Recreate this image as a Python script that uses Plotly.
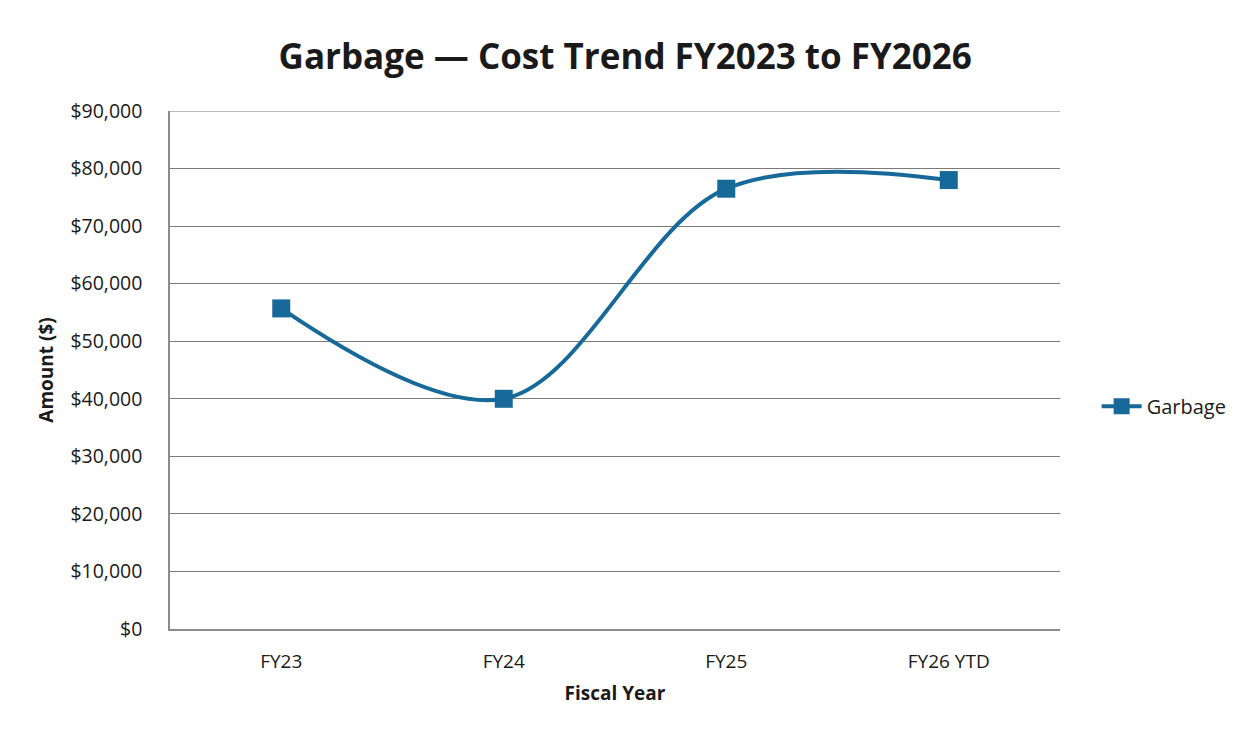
import plotly.graph_objects as go

# Annual garbage costs by fiscal year
fiscal_years = ["FY23", "FY24", "FY25", "FY26 YTD"]
garbage_cost = [55700, 40000, 76500, 78000]

y_ticks = [0, 10000, 20000, 30000, 40000, 50000, 60000, 70000, 80000, 90000]
y_tick_labels = ["$0", "$10,000", "$20,000", "$30,000", "$40,000",
                 "$50,000", "$60,000", "$70,000", "$80,000", "$90,000"]

line_color = "#17699a"
grid_color = "#7a7a7a"
font_family = "Open Sans, Noto Sans, sans-serif"

fig = go.Figure()
fig.add_trace(go.Scatter(
    x=fiscal_years,
    y=garbage_cost,
    name="Garbage",
    mode="lines+markers",
    line=dict(color=line_color, width=4, shape="spline", smoothing=1.0),
    marker=dict(symbol="square", size=18, color=line_color),
))

fig.update_layout(
    width=1243,
    height=730,
    paper_bgcolor="white",
    plot_bgcolor="white",
    font=dict(family=font_family, color="#1a1a1a", size=19),
    title=dict(
        text="<b>Garbage — Cost Trend FY2023 to FY2026</b>",
        x=0.503, xanchor="center",
        y=0.922, yanchor="middle",
        font=dict(size=35, color="#1a1a1a", family=font_family),
    ),
    margin=dict(l=170, r=182, t=111, b=101),
    showlegend=True,
    legend=dict(
        x=1.04, xanchor="left",
        y=0.43, yanchor="middle",
        font=dict(size=20),
        itemwidth=40,
    ),
    xaxis=dict(
        type="category",
        range=[-0.5, 3.5],
        showgrid=False,
        showline=True,
        linecolor="#8c8c8c",
        linewidth=1.5,
        ticks="",
        tickfont=dict(size=19),
        ticklabelstandoff=14,
        title=dict(text="<b>Fiscal Year</b>", font=dict(size=19), standoff=14),
    ),
    yaxis=dict(
        range=[0, 90000],
        tickvals=y_ticks,
        ticktext=y_tick_labels,
        showgrid=True,
        gridcolor=grid_color,
        gridwidth=1,
        showline=True,
        linecolor="#8c8c8c",
        linewidth=1.5,
        zeroline=False,
        ticks="",
        tickfont=dict(size=19.5),
        ticklabelstandoff=22,
        title=dict(text="<b>Amount ($)</b>", font=dict(size=19), standoff=12),
    ),
)

# top gridline at the $90,000 edge of the value axis
fig.add_shape(
    type="line", xref="paper", yref="y",
    x0=0, x1=1, y0=90000, y1=90000,
    line=dict(color=grid_color, width=1),
    layer="below",
)

fig.write_html("out.html")
